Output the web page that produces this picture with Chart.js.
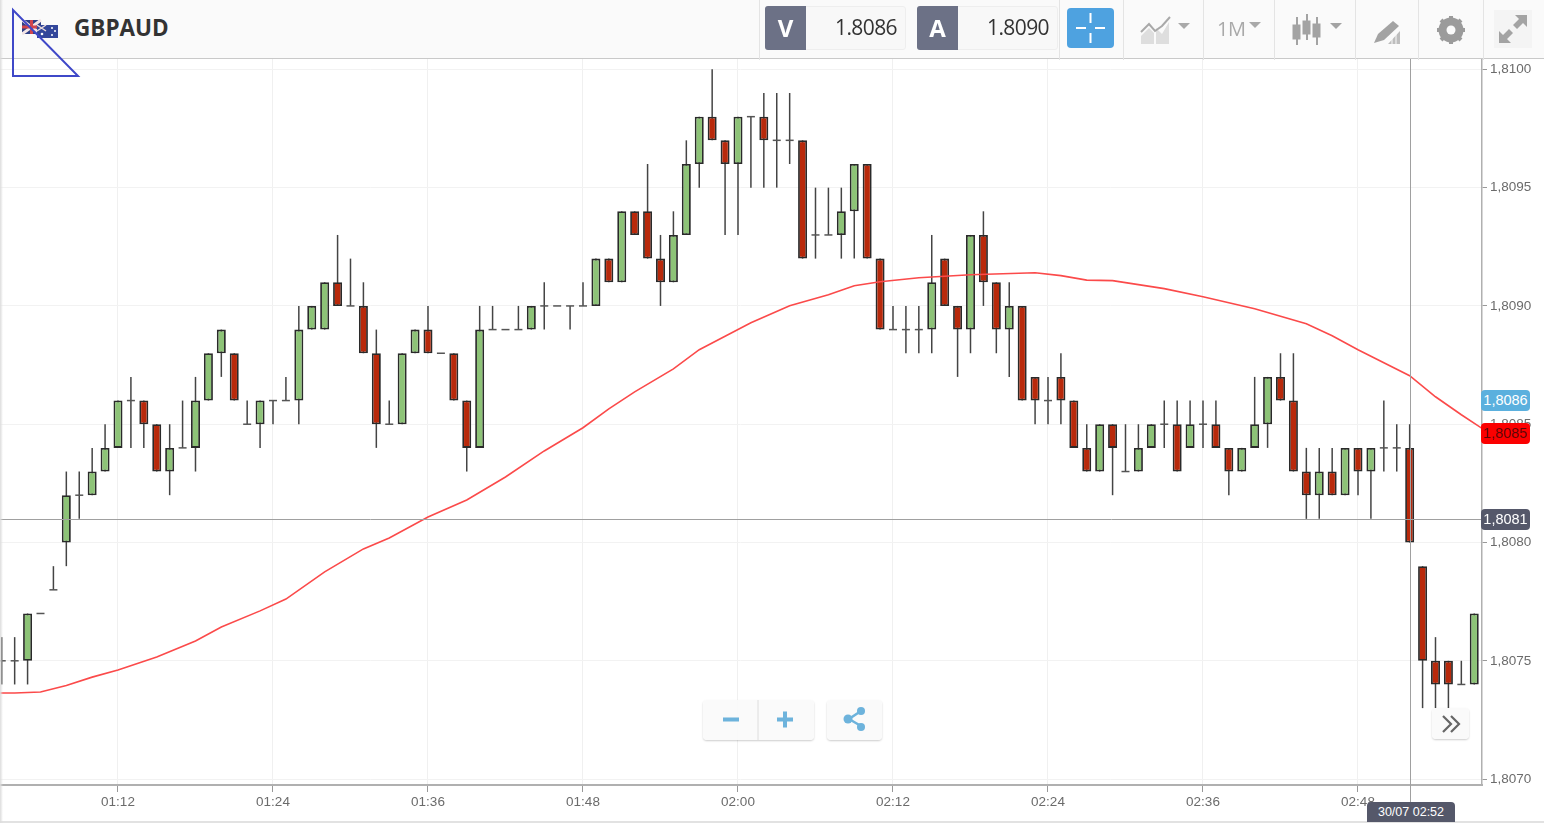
<!DOCTYPE html>
<html lang="en">
<head>
<meta charset="UTF-8">
<title>GBPAUD</title>
<script src="https://cdn.jsdelivr.net/npm/chart.js"></script>
<style>
    html, body { margin: 0; padding: 0; background: #fff; overflow: hidden; }
    #wrap { position: relative; width: 1544px; height: 823px; font-family: 'Liberation Sans', Arial, sans-serif; }
    #wrap > * { position: absolute; }
    canvas { left: 0; top: 0; }
    #edge { left: 0; top: 0; width: 3px; height: 823px; background: linear-gradient(90deg, #dcdcdc, rgba(255,255,255,0)); z-index: 3; }
    #foot { left: 0; top: 821px; width: 1544px; height: 2px; background: #e2e2e2; }
    #header { left: 0; top: 0; width: 1544px; height: 58px; background: #fafafa; border-bottom: 1px solid #c9c9c9; }
    #title { left: 74px; top: 12px; font: 700 22.5px 'Open Sans', sans-serif; color: #333; }
    .sep { top: 0; width: 1px; height: 60px; background: #e4e4e4; }
    .quote { top: 6px; height: 44px; background: #f8f8f8; border: 1px solid #eee; border-radius: 3px; box-sizing: border-box; }
    .qlabel { top: 6px; width: 41px; height: 44px; background: #6c7186; color: #fff; font: 700 24px/44px 'Open Sans', sans-serif; text-align: center; border-radius: 3px 0 0 3px; }
    .qvalue { top: 13px; font: 400 21px 'Open Sans', sans-serif; color: #333; letter-spacing: -0.6px; }
    #cross { left: 1067px; top: 8px; width: 47px; height: 40px; background: #4ea2e0; border-radius: 4px; }
    .tag { left: 1481px; width: 49px; height: 21px; line-height: 21px; border-radius: 4px; font-size: 14.5px; text-align: center; z-index: 2; }
    #timeTag { left: 1367px; top: 802px; width: 88px; height: 20px; line-height: 20px; background: #55586a; color: #fff; font-size: 12.5px; text-align: center; border-radius: 4px 4px 0 0; z-index: 2; }
    .btn { background: rgba(249,249,249,0.88); border-radius: 4px; box-shadow: 0 1px 2px rgba(0,0,0,0.2); z-index: 2; }
    #label1M { left: 1217px; top: 15px; font: 400 20px 'Open Sans', sans-serif; color: #a9a9a9; letter-spacing: -0.5px; }
</style>
</head>
<body>
<div id="wrap">
    <canvas id="chart" width="1544" height="823"></canvas>
    <div id="edge"></div>
    <div id="foot"></div>

    <div id="header"></div>
    <svg style="left:22px;top:19px" width="37" height="20" viewBox="0 0 37 20">
        <rect x="0" y="1" width="19" height="14" fill="#2f3f86"/>
        <path d="M0 1L19 15M19 1L0 15" stroke="#f3e5e5" stroke-width="3"/>
        <path d="M9.5 1V15M0 8H19" stroke="#d0454c" stroke-width="3"/>
        <rect x="15" y="6" width="21" height="13" fill="#33479b"/>
        <path d="M15 6L24 12M24 6L15 12" stroke="#eadada" stroke-width="1.5"/>
        <circle cx="20" cy="15" r="1.3" fill="#fff"/><circle cx="30" cy="9" r="1" fill="#fff"/><circle cx="33" cy="12" r="1" fill="#fff"/><circle cx="30" cy="16" r="1" fill="#fff"/>
    </svg>
    <div id="title">GBPAUD</div>
    <svg style="left:0;top:0;z-index:3" width="90" height="85"><path d="M13 10L78 76H13Z" fill="none" stroke="#3f48c8" stroke-width="2"/></svg>

    <div class="sep" style="left:759px"></div>
    <div class="quote" style="left:765px;width:141px"></div>
    <div class="qlabel" style="left:765px">V</div>
    <div class="qvalue" style="right:647px">1.8086</div>
    <div class="quote" style="left:917px;width:141px"></div>
    <div class="qlabel" style="left:917px">A</div>
    <div class="qvalue" style="right:495px">1.8090</div>
    <div class="sep" style="left:1059px"></div>
    <div id="cross">
        <svg width="47" height="40"><path d="M23.5 5V15M23.5 25V35M9 20H19M28 20H38" stroke="#fff" stroke-width="2"/></svg>
    </div>
    <div class="sep" style="left:1123px"></div>
    <svg style="left:1140px;top:14px" width="52" height="32">
        <path d="M1 22L9 14L14 19V30H1Z" fill="#dedede"/><path d="M16 14L22 20L29 8V30H16Z" fill="#dedede"/>
        <path d="M1 18L9 10L15 17L22 12L30 3" fill="none" stroke="#a9a9a9" stroke-width="2"/>
        <path d="M38 9H50L44 15Z" fill="#a9a9a9"/>
    </svg>
    <div class="sep" style="left:1203px"></div>
    <div id="label1M">1M</div>
    <svg style="left:1248px;top:22px" width="14" height="8"><path d="M1 0H13L7 6Z" fill="#a9a9a9"/></svg>
    <div class="sep" style="left:1274px"></div>
    <svg style="left:1291px;top:14px" width="54" height="34" fill="#a3a3a3" stroke="#a3a3a3">
        <path d="M6 3V31M16 0V26M26 3V31" fill="none" stroke-width="2"/>
        <rect x="2" y="11" width="7" height="14"/><rect x="12" y="7" width="7" height="13"/><rect x="22" y="10" width="7" height="13"/>
        <path d="M39 9H51L45 15Z" stroke="none"/>
    </svg>
    <div class="sep" style="left:1355px"></div>
    <svg style="left:1373px;top:18px" width="30" height="28" fill="#a3a3a3">
        <path d="M1 25L5 16L20 3L26 8L11 22Z"/><path d="M15 26L27 13V26Z" fill="#bdbdbd"/>
        <path d="M19 26V20M23 26V16" stroke="#fafafa" stroke-width="1"/>
    </svg>
    <div class="sep" style="left:1418px"></div>
    <svg style="left:1436px;top:15px" width="30" height="30">
        <circle cx="15" cy="15" r="9" fill="none" stroke="#9b9b9b" stroke-width="7"/>
        <path d="M15 1V29M1 15H29M5 5L25 25M25 5L5 25" stroke="#9b9b9b" stroke-width="4"/>
        <circle cx="15" cy="15" r="4.5" fill="#fafafa"/>
    </svg>
    <div class="sep" style="left:1483px"></div>
    <svg style="left:1494px;top:10px;background:#f4f4f4" width="38" height="38">
        <path d="M21 5H33V17L29 13L23 19L19 15L25 9ZM17 33H5V21L9 25L15 19L19 23L13 29Z" fill="#a3a3a3"/>
    </svg>

    <div class="tag" style="top:390px;background:#5bb0de;color:#fff">1,8086</div>
    <div class="tag" style="top:423px;background:#fb0000;color:#5a0606">1,8085</div>
    <div class="tag" style="top:509px;background:#55586a;color:#fff">1,8081</div>
    <div id="timeTag">30/07 02:52</div>

    <div class="btn" style="left:703px;top:700px;width:111px;height:40px"></div>
    <svg style="left:703px;top:700px;z-index:3" width="111" height="40">
        <path d="M55 0V40" stroke="#ddd"/>
        <path d="M20 19.500H36M74 19.500H90M82 11.500V27.500" stroke="#6db3dc" stroke-width="4"/>
    </svg>
    <div class="btn" style="left:827px;top:700px;width:55px;height:40px"></div>
    <svg style="left:827px;top:700px;z-index:3" width="55" height="40">
        <path d="M34 11L22 19L34 26" fill="none" stroke="#6db3dc" stroke-width="2.500"/>
        <circle cx="34" cy="11" r="4" fill="#6db3dc"/><circle cx="21" cy="19" r="4.500" fill="#6db3dc"/><circle cx="34" cy="27" r="4" fill="#6db3dc"/>
    </svg>
    <div class="btn" style="left:1432px;top:708px;width:37px;height:31px"></div>
    <svg style="left:1432px;top:708px;z-index:3" width="37" height="31">
        <path d="M11 8L19 16L11 24M19 8L27 16L19 24" fill="none" stroke="#666" stroke-width="2.200"/>
    </svg>
</div>

<script>
// candles: one per minute, starting at 01:03
const firstMinute = 63;

const opens = [
    1.8075, 1.8075, 1.8075, 1.8077, 1.8078, 1.8080, 1.8082, 1.8082, 1.8083, 1.8084,
    1.8086, 1.8086, 1.8085, 1.8083, 1.8084, 1.8084, 1.8086, 1.8088, 1.8088, 1.8085,
    1.8085, 1.8086, 1.8086, 1.8086, 1.8089, 1.8089, 1.8091, 1.8090, 1.8090, 1.8088,
    1.8085, 1.8085, 1.8088, 1.8089, 1.8088, 1.8088, 1.8086, 1.8084, 1.8089, 1.8089,
    1.8089, 1.8089, 1.8090, 1.8090, 1.8090, 1.8090, 1.8090, 1.8092, 1.8091, 1.8094,
    1.8094, 1.8092, 1.8091, 1.8093, 1.8096, 1.8098, 1.8097, 1.8096, 1.8098, 1.8098,
    1.8097, 1.8097, 1.8097, 1.8093, 1.8093, 1.8093, 1.8094, 1.8096, 1.8092, 1.8089,
    1.8089, 1.8089, 1.8089, 1.8092, 1.8090, 1.8089, 1.8093, 1.8091, 1.8089, 1.8090,
    1.8087, 1.8086, 1.8087, 1.8086, 1.8084, 1.8083, 1.8085, 1.8083, 1.8083, 1.8084,
    1.8085, 1.8085, 1.8084, 1.8085, 1.8085, 1.8084, 1.8083, 1.8084, 1.8085, 1.8087,
    1.8086, 1.8083, 1.8082, 1.8083, 1.8082, 1.8084, 1.8083, 1.8084, 1.8084, 1.8084,
    1.8079, 1.8075, 1.8075, 1.8074, 1.8074
];
const closes = [
    1.8075, 1.8075, 1.8077, 1.8077, 1.8078, 1.8082, 1.8082, 1.8083, 1.8084, 1.8086,
    1.8086, 1.8085, 1.8083, 1.8084, 1.8084, 1.8086, 1.8088, 1.8089, 1.8086, 1.8085,
    1.8086, 1.8086, 1.8086, 1.8089, 1.8090, 1.8091, 1.8090, 1.8090, 1.8088, 1.8085,
    1.8085, 1.8088, 1.8089, 1.8088, 1.8088, 1.8086, 1.8084, 1.8089, 1.8089, 1.8089,
    1.8089, 1.8090, 1.8090, 1.8090, 1.8090, 1.8090, 1.8092, 1.8091, 1.8094, 1.8093,
    1.8092, 1.8091, 1.8093, 1.8096, 1.8098, 1.8097, 1.8096, 1.8098, 1.8098, 1.8097,
    1.8097, 1.8097, 1.8092, 1.8093, 1.8093, 1.8094, 1.8096, 1.8092, 1.8089, 1.8089,
    1.8089, 1.8089, 1.8091, 1.8090, 1.8089, 1.8093, 1.8091, 1.8089, 1.8090, 1.8086,
    1.8086, 1.8086, 1.8086, 1.8084, 1.8083, 1.8085, 1.8084, 1.8083, 1.8084, 1.8085,
    1.8085, 1.8083, 1.8085, 1.8085, 1.8084, 1.8083, 1.8084, 1.8085, 1.8087, 1.8086,
    1.8083, 1.8082, 1.8083, 1.8082, 1.8084, 1.8083, 1.8084, 1.8084, 1.8084, 1.8080,
    1.8075, 1.8074, 1.8074, 1.8074, 1.8077
];
const highs = [
    1.8076, 1.8076, 1.8077, 1.8077, 1.8079, 1.8083, 1.8083, 1.8084, 1.8085, 1.8086,
    1.8087, 1.8086, 1.8085, 1.8085, 1.8086, 1.8087, 1.8088, 1.8089, 1.8088, 1.8086,
    1.8086, 1.8086, 1.8087, 1.8090, 1.8090, 1.8091, 1.8093, 1.8092, 1.8091, 1.8089,
    1.8086, 1.8088, 1.8089, 1.8090, 1.8088, 1.8088, 1.8086, 1.8090, 1.8090, 1.8089,
    1.8090, 1.8090, 1.8091, 1.8090, 1.8090, 1.8091, 1.8092, 1.8092, 1.8094, 1.8094,
    1.8096, 1.8093, 1.8094, 1.8097, 1.8098, 1.8100, 1.8097, 1.8098, 1.8098, 1.8099,
    1.8099, 1.8099, 1.8097, 1.8095, 1.8095, 1.8095, 1.8096, 1.8096, 1.8092, 1.8090,
    1.8090, 1.8090, 1.8093, 1.8092, 1.8090, 1.8093, 1.8094, 1.8091, 1.8091, 1.8090,
    1.8087, 1.8087, 1.8088, 1.8086, 1.8085, 1.8085, 1.8085, 1.8085, 1.8085, 1.8085,
    1.8086, 1.8086, 1.8086, 1.8086, 1.8086, 1.8084, 1.8084, 1.8087, 1.8087, 1.8088,
    1.8088, 1.8084, 1.8084, 1.8084, 1.8084, 1.8084, 1.8084, 1.8086, 1.8085, 1.8085,
    1.8079, 1.8076, 1.8075, 1.8075, 1.8077
];
const lows = [
    1.8074, 1.8074, 1.8074, 1.8077, 1.8078, 1.8079, 1.8081, 1.8082, 1.8083, 1.8084,
    1.8084, 1.8084, 1.8083, 1.8082, 1.8084, 1.8083, 1.8086, 1.8087, 1.8086, 1.8085,
    1.8084, 1.8085, 1.8086, 1.8085, 1.8089, 1.8089, 1.8090, 1.8090, 1.8088, 1.8084,
    1.8085, 1.8085, 1.8088, 1.8088, 1.8088, 1.8086, 1.8083, 1.8084, 1.8089, 1.8089,
    1.8089, 1.8089, 1.8089, 1.8090, 1.8089, 1.8090, 1.8090, 1.8091, 1.8091, 1.8093,
    1.8092, 1.8090, 1.8091, 1.8093, 1.8095, 1.8097, 1.8093, 1.8093, 1.8095, 1.8095,
    1.8095, 1.8096, 1.8092, 1.8092, 1.8093, 1.8092, 1.8092, 1.8092, 1.8089, 1.8089,
    1.8088, 1.8088, 1.8088, 1.8090, 1.8087, 1.8088, 1.8090, 1.8088, 1.8087, 1.8086,
    1.8085, 1.8085, 1.8085, 1.8084, 1.8083, 1.8083, 1.8082, 1.8083, 1.8083, 1.8084,
    1.8084, 1.8083, 1.8084, 1.8084, 1.8084, 1.8082, 1.8083, 1.8084, 1.8084, 1.8086,
    1.8083, 1.8081, 1.8081, 1.8082, 1.8082, 1.8082, 1.8081, 1.8083, 1.8083, 1.8080,
    1.8073, 1.8073, 1.8073, 1.8074, 1.8074
];

// moving average
const maMinutes = [
    62, 64, 66, 68, 70, 72, 75, 78, 80, 83, 85, 88, 91, 93, 96, 99, 102, 105, 108, 110, 112, 115,
    117, 121, 124, 127, 129, 131, 134, 138, 143, 145, 147, 149, 153, 156, 160, 164, 166, 168, 172, 174, 176, 178
];
const maValues = [
    1.807364, 1.807364, 1.807368, 1.807396, 1.807431, 1.807461, 1.807516, 1.807584, 1.807643, 1.807711, 1.807761,
    1.807876, 1.807973, 1.808019, 1.808108, 1.808180, 1.808277, 1.808387, 1.808485, 1.808565, 1.808637, 1.808734,
    1.808815, 1.808929, 1.809001, 1.809047, 1.809085, 1.809102, 1.809119, 1.809132, 1.809140, 1.809128, 1.809109,
    1.809107, 1.809073, 1.809039, 1.808988, 1.808925, 1.808874, 1.808815, 1.808705, 1.808616, 1.808540, 1.808468
];

const yTicks = [1.8070, 1.8075, 1.8080, 1.8085, 1.8090, 1.8095, 1.8100];
const xTickLabels = ['01:12', '01:24', '01:36', '01:48', '02:00', '02:12', '02:24', '02:36', '02:48'];

const crossPrice = 1.8081;
const crossMinute = 172;

const minutes = opens.map((_, i) => firstMinute + i);
const toMinute = (label) => {
    const parts = label.split(':');
    return parseInt(parts[0]) * 60 + parseInt(parts[1]);
};

const bodies = [], bodyColors = [], wicks = [], dashes = [];
minutes.forEach((m, i) => {
    if (highs[i] !== lows[i]) wicks.push({ x: m, y: [lows[i], highs[i]] });
    if (opens[i] === closes[i]) {
        dashes.push({ x: m, y: opens[i] });
    } else {
        bodies.push({ x: m, y: [opens[i], closes[i]] });
        bodyColors.push(closes[i] > opens[i] ? '#8dc377' : '#b8290b');
    }
});

// crosshair, goes over the candles and down to the time tag
const crosshair = {
    id: 'crosshair',
    afterDatasetsDraw(chart) {
        const { ctx, scales, chartArea } = chart;
        const px = Math.round(scales.x.getPixelForValue(crossMinute)) + 0.5;
        const py = Math.round(scales.y.getPixelForValue(crossPrice)) + 0.5;
        ctx.save();
        ctx.strokeStyle = '#a0a0a0';
        ctx.lineWidth = 1;
        ctx.beginPath();
        ctx.moveTo(px, chartArea.top);
        ctx.lineTo(px, 802);
        ctx.moveTo(chartArea.left, py);
        ctx.lineTo(chartArea.right, py);
        ctx.stroke();
        ctx.restore();
    }
};

new Chart(document.getElementById('chart').getContext('2d'), {
    type: 'bar',
    data: {
        datasets: [
            {
                type: 'line',
                label: 'MA',
                data: maMinutes.map((m, i) => ({ x: m, y: maValues[i] })),
                borderColor: '#fb4a4a',
                borderWidth: 1.6,
                pointRadius: 0,
                tension: 0,
                order: 0
            },
            {
                label: 'Bodies',
                data: bodies,
                backgroundColor: bodyColors,
                borderColor: '#2a2a2a',
                borderWidth: 1.8,
                borderSkipped: false,
                inflateAmount: 0,
                barThickness: 9,
                grouped: false,
                order: 1
            },
            {
                type: 'line',
                label: 'Dashes',
                data: dashes,
                showLine: false,
                pointStyle: 'line',
                pointRadius: 4,
                pointBorderWidth: 1.5,
                pointBorderColor: '#555',
                order: 2
            },
            {
                label: 'Wicks',
                data: wicks,
                backgroundColor: '#444',
                borderWidth: 0,
                inflateAmount: 0,
                barThickness: 1.5,
                grouped: false,
                order: 3
            }
        ]
    },
    options: {
        responsive: false,
        animation: false,
        events: [],
        layout: { autoPadding: false, padding: { top: 58, left: 0, right: 0, bottom: 0 } },
        plugins: { legend: { display: false }, tooltip: { enabled: false } },
        scales: {
            x: {
                type: 'linear',
                offset: false,
                min: 62.865,
                max: 177.6,
                afterFit(axis) {
                    axis.height = 38;
                    axis.paddingLeft = 0;
                    axis.paddingRight = 0;
                },
                afterBuildTicks(axis) {
                    axis.ticks = xTickLabels.map(l => ({ value: toMinute(l) }));
                },
                ticks: {
                    autoSkip: false,
                    maxRotation: 0,
                    padding: 2,
                    color: '#6b6b6b',
                    font: { family: 'Liberation Sans', size: 13.5 },
                    callback: (v, i) => xTickLabels[i]
                },
                grid: { offset: false, color: '#f0f0f0', tickColor: '#999', tickLength: 7 },
                border: { color: '#b0b0b0', width: 2 }
            },
            y: {
                position: 'right',
                min: 1.806975,
                max: 1.810048,
                afterFit(axis) {
                    axis.width = 62;
                    axis.paddingTop = 0;
                    axis.paddingBottom = 0;
                },
                afterBuildTicks(axis) {
                    axis.ticks = yTicks.map(v => ({ value: v }));
                },
                ticks: {
                    padding: 3,
                    color: '#6b6b6b',
                    font: { family: 'Liberation Sans', size: 13.5 },
                    callback: (v) => v.toFixed(4).replace('.', ',')
                },
                grid: { color: '#f2f2f2', tickColor: '#999', tickLength: 5 },
                border: { color: '#b0b0b0', width: 1.5 }
            }
        }
    },
    plugins: [crosshair]
});
</script>
</body>
</html>
